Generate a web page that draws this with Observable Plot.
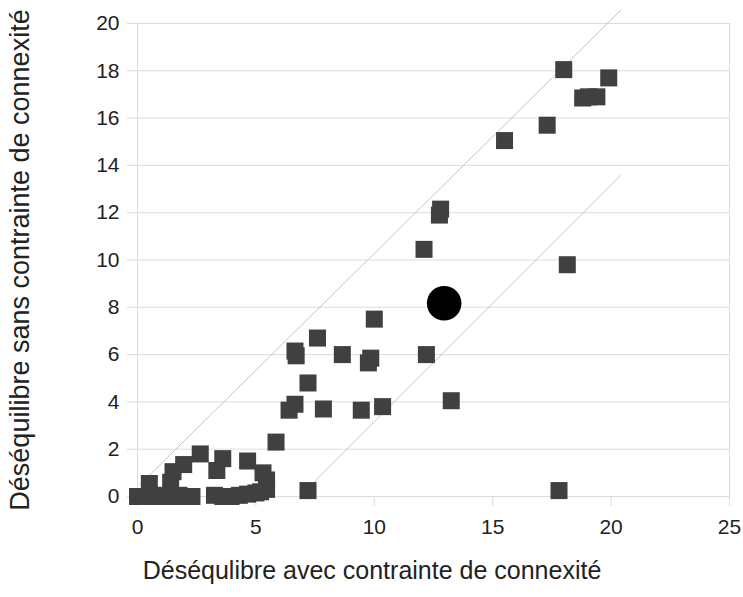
<!DOCTYPE html>
<html><head><meta charset="utf-8">
<script src="https://cdn.jsdelivr.net/npm/d3@7"></script>
<script src="https://cdn.jsdelivr.net/npm/@observablehq/plot@0.6"></script>
<style>body{margin:0;background:#fff;}</style>
</head><body><div id="chart"></div>
<script>
// Squares: x = imbalance with connectivity constraint, y = without
const sqX = [18.0, 19.9, 18.8, 19.05, 19.4, 17.3, 15.5, 12.8, 12.75, 12.1, 18.15,
  10.0, 7.6, 6.65, 6.7, 8.65, 9.85, 9.75, 12.2, 7.2, 6.65, 6.4, 7.85, 9.45, 10.35, 13.25,
  17.8, 5.85, 7.2,
  2.65, 3.6, 4.65, 3.35, 1.95, 1.5, 0.5, 1.4, 5.3, 5.45, 5.45,
  0, 0.35, 0.7, 1.05, 1.4, 1.75, 2.1, 2.3,
  3.25, 3.6, 3.95, 4.3, 4.65, 5.0, 5.2];
const sqY = [18.05, 17.7, 16.85, 16.9, 16.9, 15.7, 15.05, 12.15, 11.9, 10.45, 9.8,
  7.5, 6.7, 6.15, 5.95, 6.0, 5.85, 5.65, 6.0, 4.8, 3.9, 3.65, 3.7, 3.65, 3.8, 4.05,
  0.25, 2.3, 0.25,
  1.8, 1.6, 1.5, 1.1, 1.35, 1.05, 0.55, 0.6, 1.0, 0.7, 0.3,
  0, 0, 0.05, 0, 0, 0.05, 0, 0,
  0.05, 0, 0, 0.05, 0.1, 0.15, 0.2];
// Highlighted point (black disc)
const dotX = [12.95];
const dotY = [8.17];
// Reference diagonals (endpoints)
const upperX = [0.1, 20.4];
const upperY = [0.5, 20.55];
const lowerX = [7.1, 20.4];
const lowerY = [0.25, 13.57];
// Ticks and titles
const xTicks = [0, 5, 10, 15, 20, 25];
const yTicks = [0, 2, 4, 6, 8, 10, 12, 14, 16, 18, 20];
const xTitle = "Déséqulibre avec contrainte de connexité";
const yTitle = "Déséquilibre sans contrainte de connexité";

const squares = sqX.map((x, i) => ({x, y: sqY[i]}));
const dots = dotX.map((x, i) => ({x, y: dotY[i]}));
const upper = upperX.map((x, i) => ({x, y: upperY[i]}));
const lower = lowerX.map((x, i) => ({x, y: lowerY[i]}));

const grid = "#dcdcdc";
const ink = "#222";

const chart = Plot.plot({
  width: 743,
  height: 597,
  marginLeft: 137,
  marginRight: 14,
  marginTop: 23,
  marginBottom: 101,
  style: {fontFamily: "'Liberation Sans', Arial, sans-serif", background: "#fff"},
  x: {domain: [0, 25]},
  y: {domain: [0, 20]},
  marks: [
    Plot.ruleY(yTicks, {stroke: grid}),
    Plot.ruleX([0, 25], {stroke: grid}),
    Plot.axisY({ticks: yTicks, tickSize: 10, tickPadding: 8, stroke: grid, color: ink, fontSize: 21, label: null}),
    Plot.axisX({ticks: xTicks, tickSize: 10, tickPadding: 13, stroke: grid, color: ink, fontSize: 21, label: null}),
    Plot.line(upper, {x: "x", y: "y", stroke: "#c4c4c4", strokeWidth: 1}),
    Plot.line(lower, {x: "x", y: "y", stroke: "#c4c4c4", strokeWidth: 1}),
    Plot.dot(squares, {x: "x", y: "y", symbol: "square", r: 9.6, fill: "#404040"}),
    Plot.dot(dots, {x: "x", y: "y", r: 17.3, fill: "#000"}),
    Plot.text([yTitle], {frameAnchor: "left", textAnchor: "middle", dx: -117, rotate: -90, fontSize: 27, fill: ink}),
    Plot.text([xTitle], {frameAnchor: "bottom", textAnchor: "middle", dx: -61.5, dy: 82, fontSize: 25, fill: ink})
  ]
});
document.getElementById("chart").appendChild(chart);
</script>
</body></html>
